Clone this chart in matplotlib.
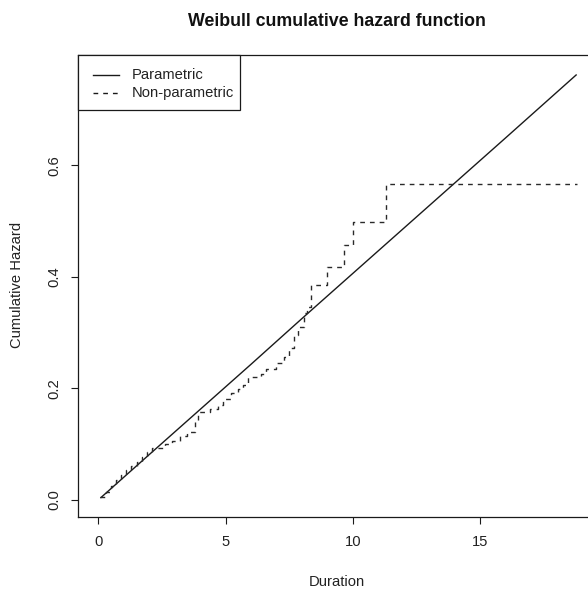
import matplotlib
matplotlib.use("Agg")
import matplotlib.pyplot as plt
from matplotlib.lines import Line2D
from matplotlib.patches import Rectangle

# Fitted Weibull cumulative hazard (shape close to 1, so nearly linear)
param_time = [0.08, 2.0, 4.0, 6.0, 8.0, 10.0, 12.0, 14.0, 16.0, 18.8]
param_hazard = [0.003, 0.081, 0.162, 0.243, 0.325, 0.406, 0.487, 0.568, 0.649, 0.763]

# Nelson-Aalen step estimate
np_time = [0.08, 0.3, 0.5, 0.7, 0.9, 1.1, 1.3, 1.5, 1.7, 1.9, 2.1, 2.6, 2.9, 3.2,
           3.5, 3.8, 3.9, 4.4, 4.7, 4.9, 5.2, 5.5, 5.7, 5.9, 6.4, 6.6, 7.0, 7.3,
           7.5, 7.7, 7.85, 8.1, 8.2, 8.35, 9.0, 9.66, 10.0, 11.3, 18.8]
np_hazard = [0.004, 0.013, 0.025, 0.035, 0.044, 0.053, 0.061, 0.068, 0.076, 0.086,
             0.092, 0.100, 0.106, 0.115, 0.122, 0.140, 0.157, 0.162, 0.170, 0.180,
             0.192, 0.198, 0.205, 0.220, 0.225, 0.235, 0.245, 0.256, 0.272, 0.295,
             0.310, 0.335, 0.345, 0.385, 0.418, 0.457, 0.498, 0.567, 0.567]

x_ticks = [0, 5, 10, 15]
y_ticks = [0.0, 0.2, 0.4, 0.6]
y_tick_labels = ["0.0", "0.2", "0.4", "0.6"]
legend_labels = ["Parametric", "Non-parametric"]

plt.rcParams["font.family"] = ["Liberation Sans", "DejaVu Sans"]
plt.rcParams["lines.scale_dashes"] = False

W, H = 588, 590
fig = plt.figure(figsize=(W / 100, H / 100), dpi=100)


def fx(px):
    return px / W


def fy(py):
    return 1 - py / H


left, right, top, bottom = 78, 596, 55, 517
ax = fig.add_axes([fx(left), fy(bottom), fx(right) - fx(left), fy(top) - fy(bottom)])

ink = "#1a1a1a"
dash = (0, (3.4, 3.6))
ax.plot(param_time, param_hazard, color=ink, lw=1.0, solid_capstyle="butt")
ax.step(np_time, np_hazard, where="post", color="#2a2a2a", lw=1.0, linestyle=dash)

ax.set_xlim(-0.8, 19.56)
ax.set_ylim(-0.031, 0.798)

for s in ax.spines.values():
    s.set_linewidth(0.9)
    s.set_color(ink)
ax.spines["right"].set_visible(False)

ax.set_xticks(x_ticks)
ax.set_xticklabels([str(v) for v in x_ticks])
ax.set_yticks(y_ticks)
ax.set_yticklabels(y_tick_labels, rotation=90, va="center")
ax.tick_params(axis="both", direction="out", length=5.3, width=0.8, color=ink,
               labelsize=10.6, labelcolor="#222222")
ax.tick_params(axis="x", pad=7.5)
ax.tick_params(axis="y", pad=6.5)

fig.text(fx(337), fy(22), "Weibull cumulative hazard function", ha="center",
         va="center", fontsize=12.8, fontweight="bold", color="#111111")
fig.text(fx(337), fy(582), "Duration", ha="center", va="center", fontsize=10.6,
         color="#222222")
fig.text(fx(17), fy(285), "Cumulative Hazard", ha="center", va="center",
         rotation=90, fontsize=10.6, color="#222222")

# legend box in the upper-left corner of the plot region
fig.patches.append(Rectangle((fx(78), fy(110)), fx(240) - fx(78), fy(55) - fy(110),
                             transform=fig.transFigure, facecolor="white",
                             edgecolor=ink, lw=0.9, zorder=5))
styles = ["-", dash]
rows = [75, 93]
for lab, ls, ry in zip(legend_labels, styles, rows):
    fig.add_artist(Line2D([fx(93), fx(119)], [fy(ry), fy(ry)], color=ink, lw=1.0,
                          linestyle=ls, transform=fig.transFigure, zorder=6))
    fig.text(fx(132), fy(ry), lab, ha="left", va="center", fontsize=10.6,
             color="#222222", zorder=6)

fig.savefig("out.png", dpi=100)
